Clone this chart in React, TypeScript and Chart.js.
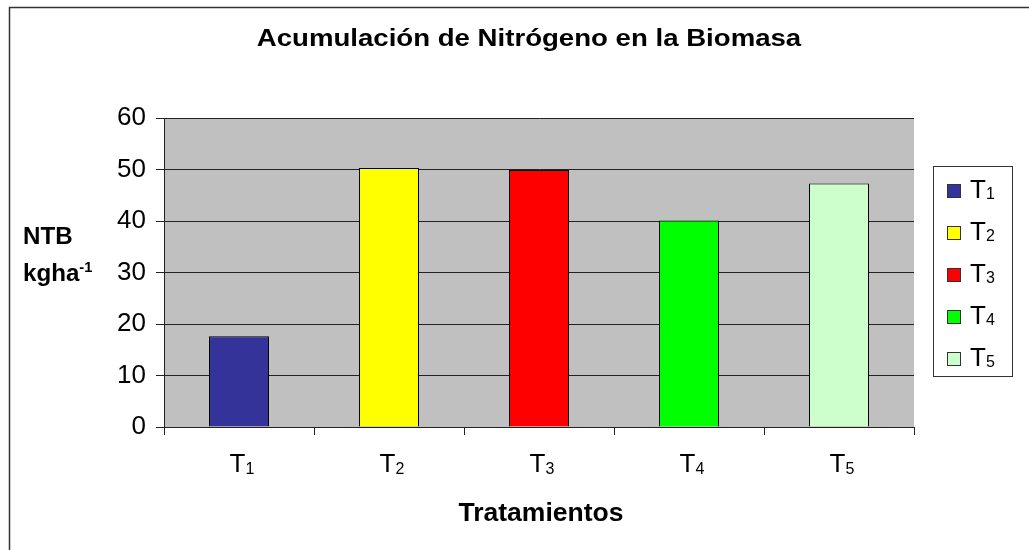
import React, { useEffect, useRef } from "react";
import { Chart, registerables } from "chart.js";

Chart.register(...registerables);

const chartTitle = "Acumulación de Nitrógeno en la Biomasa";
const xTitle = "Tratamientos";
const yTitleLines = ["NTB", "kgha"];
const yTitleSup = "-1";
const categories = ["T1", "T2", "T3", "T4", "T5"];
const catMain = ["T", "T", "T", "T", "T"];
const catSub = ["1", "2", "3", "4", "5"];
const values = [17.6, 50.3, 49.9, 40.1, 47.3];
const barColors = ["#333399", "#FFFF00", "#FF0000", "#00FF00", "#CCFFCC"];
const yTicks = [0, 10, 20, 30, 40, 50, 60];

const FONT = "'Liberation Sans', Arial, sans-serif";

function txt(
  ctx: CanvasRenderingContext2D,
  s: string,
  x: number,
  y: number,
  font: string,
  align: CanvasTextAlign = "left",
  sx = 1
) {
  ctx.save();
  ctx.font = font;
  ctx.textAlign = align;
  ctx.textBaseline = "alphabetic";
  ctx.fillStyle = "#000";
  ctx.translate(x, y);
  ctx.scale(sx, 1);
  ctx.fillText(s, 0, 0);
  ctx.restore();
}

const decorPlugin = {
  id: "decor",
  beforeDraw(chart: any) {
    const { ctx, chartArea } = chart;
    ctx.save();
    ctx.fillStyle = "#fff";
    ctx.fillRect(0, 0, chart.width, chart.height);
    ctx.fillStyle = "#C0C0C0";
    ctx.fillRect(
      chartArea.left,
      chartArea.top,
      chartArea.right - chartArea.left,
      chartArea.bottom - chartArea.top
    );
    // outer frame
    ctx.strokeStyle = "#333";
    ctx.lineWidth = 1.5;
    ctx.beginPath();
    ctx.moveTo(9.5, chart.height + 5);
    ctx.lineTo(9.5, 7.5);
    ctx.lineTo(chart.width + 5, 7.5);
    ctx.stroke();
    ctx.restore();
  },
  afterDraw(chart: any) {
    const { ctx } = chart;
    const xs = chart.scales.x;
    // title
    txt(ctx, chartTitle, 529, 46, `bold 23px ${FONT}`, "center", 1.2);
    // y title
    txt(ctx, yTitleLines[0], 23, 244, `bold 23px ${FONT}`, "left", 1.05);
    ctx.save();
    ctx.font = `bold 23px ${FONT}`;
    const kw = ctx.measureText(yTitleLines[1]).width * 1.05;
    ctx.restore();
    txt(ctx, yTitleLines[1], 23, 281, `bold 23px ${FONT}`, "left", 1.05);
    txt(ctx, yTitleSup, 23 + kw, 272, `bold 14px ${FONT}`, "left", 1.05);
    // x labels
    categories.forEach((c, i) => {
      const cx = xs.getPixelForValue(i);
      const tx = cx - 9.5;
      ctx.save();
      ctx.font = `26px ${FONT}`;
      const tw = ctx.measureText(catMain[i]).width;
      ctx.restore();
      txt(ctx, catMain[i], tx, 472, `26px ${FONT}`);
      txt(ctx, catSub[i], tx + tw, 474, `16px ${FONT}`);
    });
    // x title
    txt(ctx, xTitle, 541, 521, `bold 26px ${FONT}`, "center", 1.02);
    // legend
    ctx.save();
    ctx.strokeStyle = "#333";
    ctx.lineWidth = 1;
    ctx.fillStyle = "#fff";
    ctx.fillRect(933, 166, 79, 210);
    ctx.strokeRect(933.5, 166.5, 79, 210);
    ctx.restore();
    categories.forEach((c, i) => {
      const cy = 191 + i * 42;
      ctx.save();
      ctx.fillStyle = barColors[i];
      ctx.fillRect(947, cy - 7, 13, 13);
      ctx.strokeStyle = "#333";
      ctx.lineWidth = 1;
      ctx.strokeRect(947.5, cy - 6.5, 13, 13);
      ctx.restore();
      ctx.save();
      ctx.font = `26px ${FONT}`;
      const tw = ctx.measureText(catMain[i]).width;
      ctx.restore();
      txt(ctx, catMain[i], 970, cy + 7, `26px ${FONT}`);
      txt(ctx, catSub[i], 970 + tw, cy + 8, `16px ${FONT}`);
    });
  },
};

export default function App() {
  const ref = useRef<HTMLCanvasElement>(null);
  useEffect(() => {
    document.body.style.margin = "0";
    const chart = new Chart(ref.current!, {
      type: "bar",
      data: {
        labels: categories,
        datasets: [
          {
            data: values,
            backgroundColor: barColors,
            borderColor: "#000",
            borderWidth: 1,
            barPercentage: 0.4,
            categoryPercentage: 1,
          },
        ],
      },
      options: {
        animation: false,
        responsive: false,
        devicePixelRatio: 1,
        layout: { padding: { top: 118, right: 115, left: 0, bottom: 0 } },
        plugins: {
          legend: { display: false },
          title: { display: false },
          tooltip: { enabled: false },
        },
        scales: {
          x: {
            offset: true,
            grid: {
              display: true,
              drawOnChartArea: false,
              drawTicks: true,
              tickLength: 8,
              offset: true,
              color: "#222",
              tickColor: "#222",
            },
            border: { display: true, color: "#222", width: 1 },
            ticks: { display: false },
            afterFit: (s: any) => {
              s.height = 123;
            },
          },
          y: {
            min: 0,
            max: 60,
            afterBuildTicks: (s: any) => {
              s.ticks = yTicks.map((v) => ({ value: v }));
            },
            grid: {
              color: "#222",
              tickColor: "#222",
              tickLength: 8,
              lineWidth: 1,
            },
            border: { display: true, color: "#222", width: 1 },
            ticks: {
              color: "#000",
              padding: 10,
              font: { family: FONT, size: 26 },
            },
            afterFit: (s: any) => {
              s.width = 164;
            },
          },
        },
      },
      plugins: [decorPlugin],
    });
    return () => chart.destroy();
  }, []);
  return (
    <canvas
      ref={ref}
      width={1029}
      height={550}
      style={{ display: "block", width: 1029, height: 550 }}
    />
  );
}
